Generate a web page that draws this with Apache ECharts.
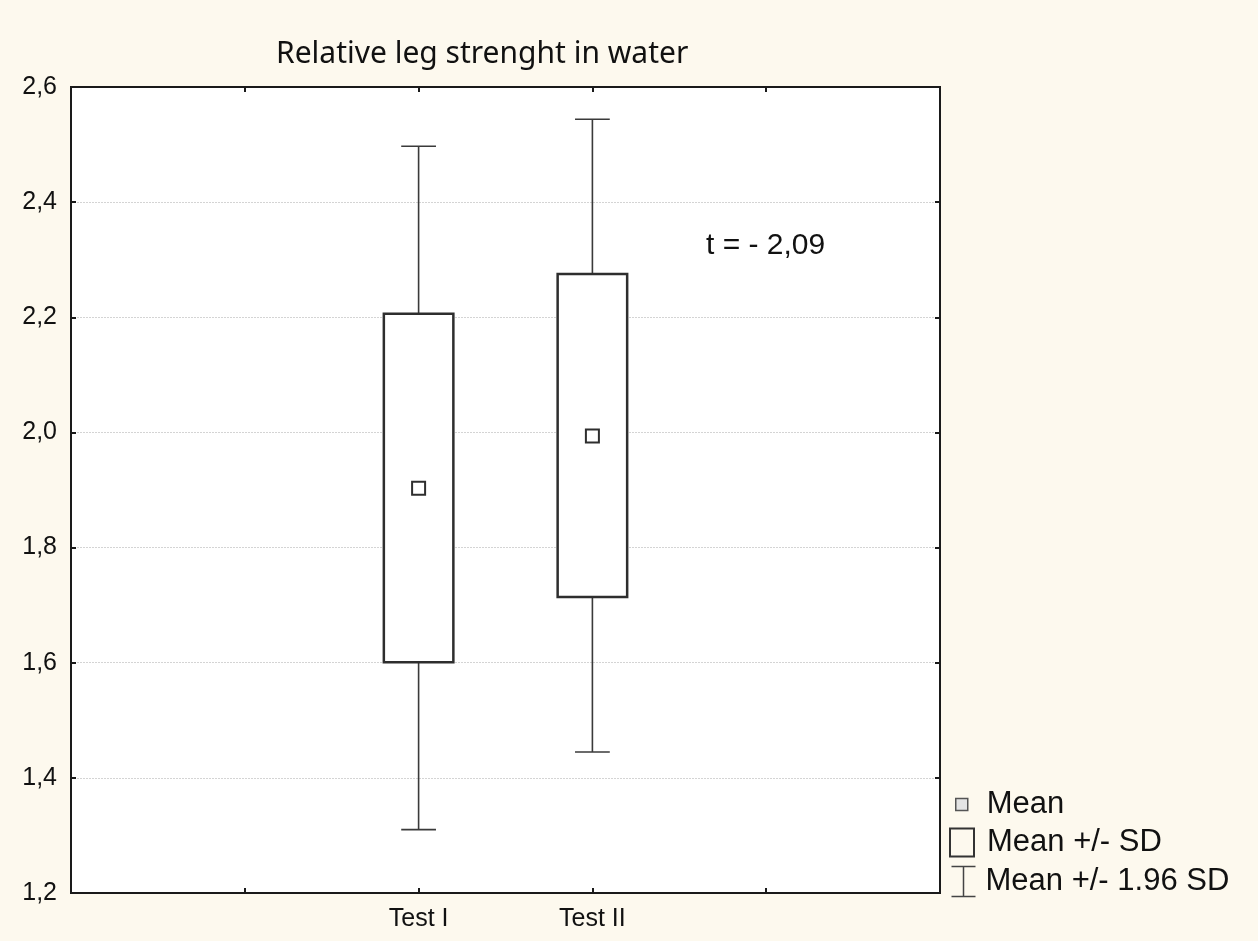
<!DOCTYPE html>
<html>
<head>
<meta charset="utf-8">
<script src="https://cdn.jsdelivr.net/npm/echarts@6/dist/echarts.min.js"></script>
<style>
html,body{margin:0;padding:0;background:#fdf9ee;}
#chart{width:1258px;height:941px;}
</style>
</head>
<body>
<div id="chart"></div>
<script>
// ---- data ----
const categories = ['Test I', 'Test II'];
const xTickLabels = ['', '', 'Test I', 'Test II', '', ''];
const meanValues = [1.903, 1.994];
const sdLow = [1.601, 1.714];
const sdHigh = [2.206, 2.275];
const ciLow = [1.310, 1.445];
const ciHigh = [2.497, 2.544];
const yMin = 1.2, yMax = 2.6, yStep = 0.2;
const titleText = 'Relative leg strenght in water';
const noteText = 't = - 2,09';

const xIndex = categories.map(c => xTickLabels.indexOf(c));
const fontLabel = '"Liberation Sans", Arial, sans-serif';

const chart = echarts.init(document.getElementById('chart'), null, {renderer: 'canvas'});

const boxData = categories.map((c, i) => [xIndex[i], sdLow[i], sdHigh[i]]);
const ciData = categories.map((c, i) => [xIndex[i], ciLow[i], ciHigh[i]]);
const meanData = categories.map((c, i) => [xIndex[i], meanValues[i]]);

function axisLine() {
  return {show: true, onZero: false, lineStyle: {color: '#1a1a1a', width: 2}};
}
function tick() {
  return {show: true, inside: true, length: 5, lineStyle: {color: '#1a1a1a', width: 2}};
}

const option = {
  backgroundColor: '#fdf9ee',
  animation: false,
  title: {
    text: titleText,
    left: 276, top: 39,
    padding: 0,
    textStyle: {fontFamily: '"Noto Sans", "Open Sans", sans-serif', fontSize: 30, fontWeight: 'normal', color: '#111'}
  },
  grid: {
    left: 71, right: 318, top: 87, bottom: 48,
    show: true, backgroundColor: '#ffffff', borderColor: '#1a1a1a', borderWidth: 2
  },
  legend: [
    {
      data: ['Mean'], orient: 'vertical', left: 955, top: 789,
      selectedMode: false, padding: 0,
      icon: 'rect', itemWidth: 12, itemHeight: 12,
      itemStyle: {color: '#e4e4e4', borderColor: '#555', borderWidth: 1.5},
      textStyle: {fontFamily: fontLabel, fontSize: 31, color: '#111', padding: [0, 0, 0, 14]}
    },
    {
      data: ['Mean +/- SD'], orient: 'vertical', left: 949, top: 827,
      selectedMode: false, padding: 0,
      icon: 'rect', itemWidth: 24, itemHeight: 28,
      itemStyle: {color: '#fdf9ee', borderColor: '#333', borderWidth: 2},
      textStyle: {fontFamily: fontLabel, fontSize: 31, color: '#111', padding: [0, 0, 0, 8]}
    },
    {
      data: ['Mean +/- 1.96 SD'], orient: 'vertical', left: 949, top: 864,
      selectedMode: false, padding: 0,
      icon: 'path://M0,0 L24,0 M12,0 L12,30 M0,30 L24,30', itemWidth: 24, itemHeight: 30,
      itemStyle: {color: 'none', borderColor: '#444', borderWidth: 1.5},
      textStyle: {fontFamily: fontLabel, fontSize: 31, color: '#111', padding: [0, 0, 0, 5]}
    }
  ],
  xAxis: [
    {
      type: 'value', min: 0, max: xTickLabels.length - 1, interval: 1,
      position: 'bottom',
      axisLine: axisLine(),
      axisTick: tick(),
      splitLine: {show: false},
      axisLabel: {
        margin: 14, fontFamily: fontLabel, fontSize: 25, color: '#111',
        formatter: v => xTickLabels[Math.round(v)] || ''
      }
    },
    {
      type: 'value', min: 0, max: xTickLabels.length - 1, interval: 1,
      position: 'top',
      axisLine: axisLine(),
      axisTick: tick(),
      splitLine: {show: false},
      axisLabel: {show: false}
    }
  ],
  yAxis: [
    {
      type: 'value', min: yMin, max: yMax, interval: yStep, position: 'left',
      axisLine: axisLine(),
      axisTick: tick(),
      splitLine: {show: true, lineStyle: {color: '#d4d4d4', width: 1, type: [2, 1]}},
      axisLabel: {
        margin: 14, fontFamily: fontLabel, fontSize: 25, color: '#111',
        padding: [4, 0, 0, 0],
        formatter: v => v.toFixed(1).replace('.', ',')
      }
    },
    {
      type: 'value', min: yMin, max: yMax, interval: yStep, position: 'right',
      axisLine: axisLine(),
      axisTick: tick(),
      splitLine: {show: false},
      axisLabel: {show: false}
    }
  ],
  series: [
    {
      name: 'Mean +/- 1.96 SD',
      type: 'custom',
      data: ciData,
      encode: {x: 0, y: [1, 2]},
      renderItem: function (params, api) {
        const x = api.value(0);
        const pLow = api.coord([x, api.value(1)]);
        const pHigh = api.coord([x, api.value(2)]);
        const band = api.size([1, 0])[0];
        const half = band * 0.1;
        const style = {stroke: '#3a3a3a', lineWidth: 1.6, fill: null};
        return {
          type: 'group',
          children: [
            {type: 'line', shape: {x1: pLow[0], y1: pLow[1], x2: pHigh[0], y2: pHigh[1]}, style: style},
            {type: 'line', shape: {x1: pLow[0] - half, y1: pLow[1], x2: pLow[0] + half, y2: pLow[1]}, style: style},
            {type: 'line', shape: {x1: pHigh[0] - half, y1: pHigh[1], x2: pHigh[0] + half, y2: pHigh[1]}, style: style}
          ]
        };
      },
      z: 2
    },
    {
      name: 'Mean +/- SD',
      type: 'custom',
      data: boxData,
      encode: {x: 0, y: [1, 2]},
      renderItem: function (params, api) {
        const x = api.value(0);
        const pLow = api.coord([x, api.value(1)]);
        const pHigh = api.coord([x, api.value(2)]);
        const band = api.size([1, 0])[0];
        const w = band * 0.4;
        return {
          type: 'rect',
          shape: {x: pLow[0] - w / 2, y: pHigh[1], width: w, height: pLow[1] - pHigh[1]},
          style: {fill: '#ffffff', stroke: '#2e2e2e', lineWidth: 2.5}
        };
      },
      z: 3
    },
    {
      name: 'Mean',
      type: 'scatter',
      data: meanData,
      symbol: 'rect',
      symbolSize: 13,
      itemStyle: {color: '#ffffff', borderColor: '#2e2e2e', borderWidth: 2, opacity: 1},
      z: 4
    }
  ],
  graphic: [
    {
      type: 'text',
      left: 706, top: 231,
      style: {text: noteText, fontFamily: fontLabel, fontSize: 30, fill: '#111'}
    }
  ]
};
chart.setOption(option);
</script>
</body>
</html>
